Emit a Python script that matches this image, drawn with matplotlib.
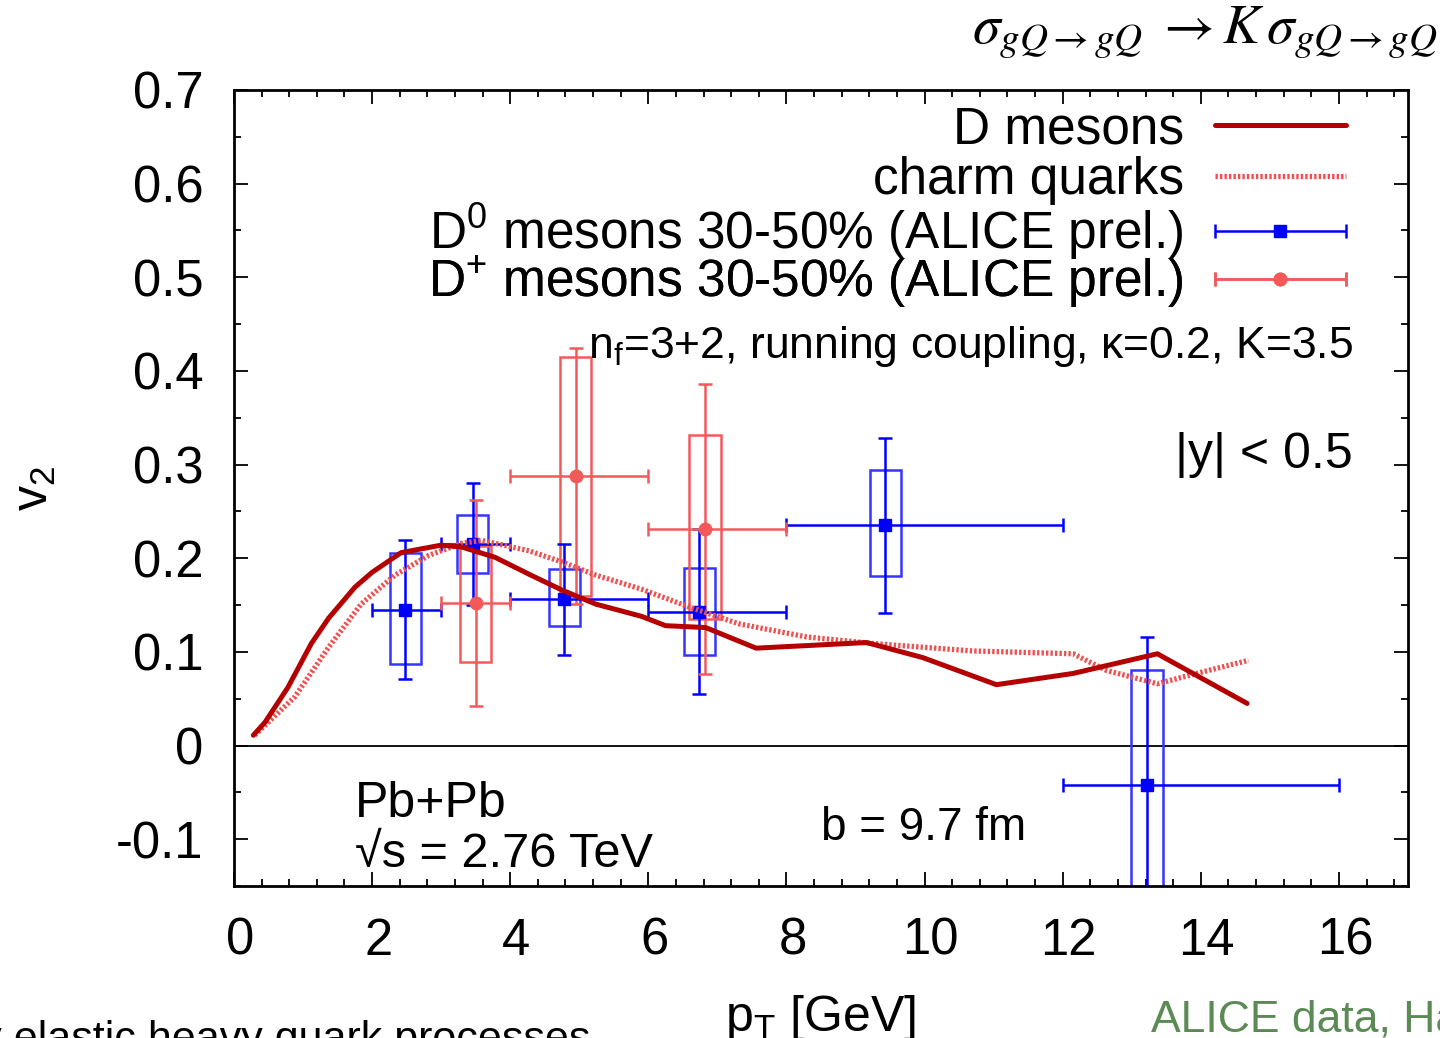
import numpy as np
import matplotlib.pyplot as plt
from matplotlib.legend_handler import HandlerErrorbar
from matplotlib.ticker import MultipleLocator, FuncFormatter
from matplotlib.transforms import ScaledTranslation

plt.rcParams['font.family'] = ['Liberation Sans', 'DejaVu Sans']
plt.rcParams['mathtext.fontset'] = 'custom'
plt.rcParams['mathtext.rm'] = 'Liberation Sans'
plt.rcParams['mathtext.it'] = 'Liberation Sans:italic'
plt.rcParams['mathtext.bf'] = 'Liberation Sans:bold'
plt.rcParams['axes.unicode_minus'] = False

# BAMPS model curves
dmes_pt = [0.28, 0.45, 0.78, 1.12, 1.37, 1.75, 2.0, 2.42, 3.0, 3.3, 3.78, 4.27,
           4.75, 5.24, 5.9, 6.25, 6.83, 7.56, 9.16, 9.97, 11.04, 12.15, 13.37, 14.67]
dmes_v2 = [0.011, 0.025, 0.062, 0.109, 0.136, 0.169, 0.185, 0.206, 0.214, 0.212, 0.201, 0.183,
           0.166, 0.151, 0.138, 0.128, 0.126, 0.104, 0.110, 0.094, 0.065, 0.077, 0.098, 0.045]

charm_pt = [0.3, 0.88, 1.37, 1.84, 2.33, 2.82, 3.3, 3.59, 4.27, 4.75, 5.24, 5.9,
            6.59, 7.31, 8.29, 9.25, 10.7, 12.15, 12.64, 13.37, 13.99, 14.69]
charm_v2 = [0.011, 0.052, 0.105, 0.151, 0.182, 0.203, 0.216, 0.219, 0.208, 0.196, 0.182, 0.167,
            0.148, 0.130, 0.116, 0.109, 0.101, 0.098, 0.080, 0.066, 0.078, 0.091]

# ALICE D0 (30-50%)
d0_pt = [2.48, 3.46, 4.78, 6.74, 9.43, 13.22]
d0_v2 = [0.145, 0.215, 0.156, 0.143, 0.235, -0.042]
d0_xlo = [2, 3, 4, 6, 8, 12]
d0_xhi = [3, 4, 6, 8, 12, 16]
d0_stat = [0.074, 0.065, 0.059, 0.088, 0.093, 0.158]
d0_sys_lo = [0.087, 0.184, 0.128, 0.097, 0.181, -0.17]
d0_sys_hi = [0.206, 0.246, 0.188, 0.190, 0.294, 0.081]

# ALICE D+ (30-50%)
dp_pt = [3.5, 4.95, 6.82]
dp_v2 = [0.152, 0.288, 0.231]
dp_xlo = [3, 4, 6]
dp_xhi = [4, 6, 8]
dp_stat = [0.11, 0.137, 0.155]
dp_sys_lo = [0.089, 0.160, 0.135]
dp_sys_hi = [0.213, 0.415, 0.332]

blue = '#0000ff'
lred = '#f25a5a'
dred = '#b40000'

fig = plt.figure(figsize=(14.4, 10.38), dpi=100)
ax = fig.add_axes([0.1625, 0.1464, 0.8153, 0.7669])

ax.axhline(0, color='black', lw=1.3, zorder=1)

# systematic boxes
ax.bar(d0_pt, np.array(d0_sys_hi) - np.array(d0_sys_lo), bottom=d0_sys_lo, width=0.45,
       fill=False, edgecolor='#3535ff', lw=1.8, zorder=2)
ax.bar(dp_pt, np.array(dp_sys_hi) - np.array(dp_sys_lo), bottom=dp_sys_lo, width=0.45,
       fill=False, edgecolor=lred, lw=1.8, zorder=2)

# vertical stat errors
ax.errorbar(d0_pt, d0_v2, yerr=d0_stat, fmt='none', ecolor=blue, elinewidth=1.8,
            capsize=5, capthick=1.8, zorder=3)
ax.errorbar(dp_pt, dp_v2, yerr=dp_stat, fmt='none', ecolor=lred, elinewidth=1.8,
            capsize=5, capthick=1.8, zorder=3)

# horizontal bin widths with markers
d0_xerr = [np.array(d0_pt) - np.array(d0_xlo), np.array(d0_xhi) - np.array(d0_pt)]
dp_xerr = [np.array(dp_pt) - np.array(dp_xlo), np.array(dp_xhi) - np.array(dp_pt)]
eb_d0 = ax.errorbar(d0_pt, d0_v2, xerr=d0_xerr, fmt='s', color=blue, ms=8.5,
                    elinewidth=1.8, capsize=5, capthick=1.8, zorder=4,
                    label='D$^{0}$ mesons 30-50% (ALICE prel.)')
eb_dp = ax.errorbar(dp_pt, dp_v2, xerr=dp_xerr, fmt='o', color=lred, ms=9,
                    elinewidth=1.8, capsize=5, capthick=1.8, zorder=4,
                    label='D$^{+}$ mesons 30-50% (ALICE prel.)')

ln_d, = ax.plot(dmes_pt, dmes_v2, color=dred, lw=3.6, zorder=6, label='D mesons',
                solid_joinstyle='round', solid_capstyle='round')
ln_c, = ax.plot(charm_pt, charm_v2, color='#f05050', lw=3.8, zorder=5,
                dashes=(0.45, 0.4), label='charm quarks')

ax.set_xlim(0, 17)
ax.set_ylim(-0.15, 0.7)
ax.xaxis.set_major_locator(MultipleLocator(2))
ax.xaxis.set_minor_locator(MultipleLocator(0.4))
ax.yaxis.set_major_locator(MultipleLocator(0.1))
ax.yaxis.set_minor_locator(MultipleLocator(0.05))
ax.yaxis.set_major_formatter(FuncFormatter(lambda v, p: '%g' % round(v, 2)))
ax.tick_params(which='both', direction='in', top=True, right=True, width=1.3,
               labelsize=36.5)
ax.tick_params(which='major', length=10)
ax.tick_params(which='minor', length=5)
ax.tick_params(axis='x', pad=22)
ax.tick_params(axis='y', pad=22)
for sp in ax.spines.values():
    sp.set_linewidth(2)
shift = ScaledTranslation(6 / 100, 0, fig.dpi_scale_trans)
for lab in ax.get_xticklabels():
    lab.set_transform(lab.get_transform() + shift)

ax.set_xlabel('p$_\\mathrm{T}$ [GeV]', fontsize=36, labelpad=20)
ax.set_ylabel('v$_2$', fontsize=36, labelpad=42)

# one legend row per entry, stacked like the gnuplot key
rows = [ln_d, ln_c, eb_d0, eb_dp]
row_y = [0.950, 0.886, 0.822, 0.758]
hmap = {eb_d0: HandlerErrorbar(xerr_size=1.27), eb_dp: HandlerErrorbar(xerr_size=1.27)}
for h, yy in zip(rows, row_y):
    leg = ax.legend([h], [h.get_label()], loc='center right', bbox_to_anchor=(0.947, yy),
                    markerfirst=False, frameon=False, fontsize=37, handlelength=2.55,
                    handletextpad=0.6, borderpad=0, borderaxespad=0, handler_map=hmap)
    ax.add_artist(leg)

ax.text(0.953, 0.663, 'n$_\\mathrm{f}$=3+2, running coupling, κ=0.2, K=3.5',
        transform=ax.transAxes, ha='right', va='baseline', fontsize=32)
ax.text(0.953, 0.525, '|y| < 0.5', transform=ax.transAxes, ha='right',
        va='baseline', fontsize=36)
ax.text(0.103, 0.087, 'Pb+Pb', transform=ax.transAxes, ha='left',
        va='baseline', fontsize=36)
ax.text(0.103, 0.024, '√s = 2.76 TeV', transform=ax.transAxes, ha='left',
        va='baseline', fontsize=35)
ax.text(0.50, 0.058, 'b = 9.7 fm', transform=ax.transAxes, ha='left',
        va='baseline', fontsize=33)

fig.text(0.998, 0.958, r'$\sigma_{gQ\to gQ}\;\to K\,\sigma_{gQ\to gQ}$',
         ha='right', va='baseline', fontsize=40, math_fontfamily='stix')
fig.text(0.41, -0.0125, 'only elastic heavy quark processes', ha='right',
         va='baseline', fontsize=31)
fig.text(0.799, 0.006, 'ALICE data, Hard Probes 2012', ha='left', va='baseline',
         fontsize=32, color='#5b8a55')

fig.savefig('out.png', dpi=100)
